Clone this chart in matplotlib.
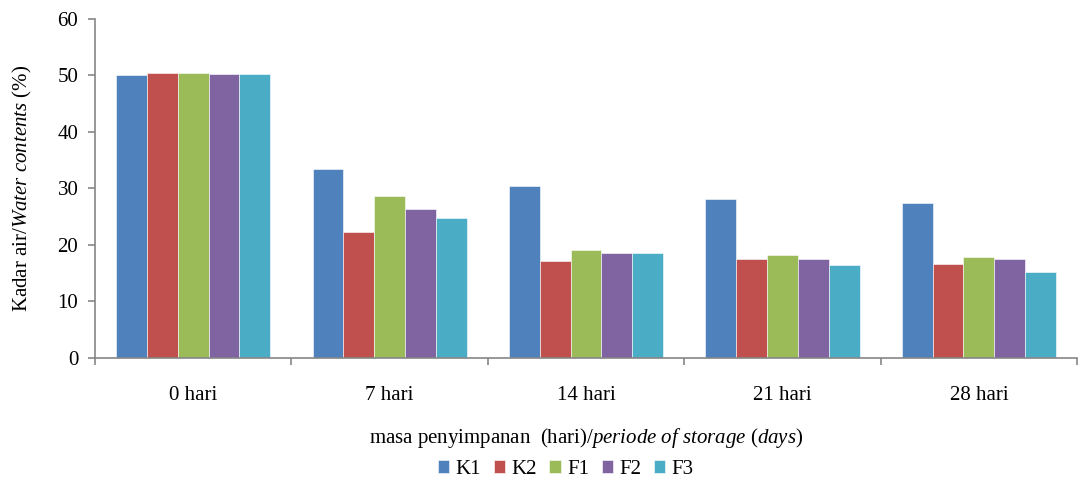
import matplotlib

matplotlib.use("Agg")
import matplotlib.pyplot as plt
import numpy as np

plt.rcParams["font.family"] = ["Liberation Serif", "DejaVu Serif"]
plt.rcParams["mathtext.fontset"] = "custom"
plt.rcParams["mathtext.rm"] = "Liberation Serif"
plt.rcParams["mathtext.it"] = "Liberation Serif:italic"

groups = ["0 hari", "7 hari", "14 hari", "21 hari", "28 hari"]
series = ["K1", "K2", "F1", "F2", "F3"]
K1 = [50.1, 33.4, 30.4, 28.1, 27.5]
K2 = [50.4, 22.3, 17.2, 17.6, 16.6]
F1 = [50.4, 28.7, 19.1, 18.2, 17.8]
F2 = [50.3, 26.3, 18.6, 17.6, 17.6]
F3 = [50.2, 24.7, 18.6, 16.5, 15.2]
values = [K1, K2, F1, F2, F3]
colors = ["#4F81BD", "#C0504D", "#9BBB59", "#8064A2", "#4BACC6"]

fig = plt.figure(figsize=(10.88, 4.82), dpi=100)
ax = fig.add_axes([0.0873, 0.2573, 0.9027, 0.7033])

x = np.arange(len(groups))
w = 0.157
for i, (name, vals, c) in enumerate(zip(series, values, colors)):
    ax.bar(x + (i - 2) * w, vals, width=w, color=c, label=name,
           edgecolor="white", linewidth=0.4)

ax.set_xlim(-0.5, len(groups) - 0.5)
ax.set_ylim(0, 60)
ax.set_yticks(range(0, 61, 10))
ax.set_xticks(x)
ax.set_xticklabels(groups)
ax.set_xticks(np.arange(-0.5, len(groups)), minor=True)
ax.tick_params(axis="x", which="major", length=0, pad=20, labelsize=15)
ax.tick_params(axis="x", which="minor", length=5, color="#868686", width=1.2)
ax.tick_params(axis="y", length=5, color="#868686", width=1.2, pad=7, labelsize=15)

for s in ["top", "right"]:
    ax.spines[s].set_visible(False)
for s in ["left", "bottom"]:
    ax.spines[s].set_color("#868686")
    ax.spines[s].set_linewidth(1.2)

ax.set_ylabel(r"Kadar air/$\mathit{Water\ contents}$ (%)", fontsize=15, labelpad=17)
ax.set_xlabel(r"masa penyimpanan  (hari)/$\mathit{periode\ of\ storage}$ ($\mathit{days}$)",
              fontsize=15, labelpad=15)

fig.legend(loc="lower center", bbox_to_anchor=(0.52, -0.02), ncol=5, frameon=False,
           fontsize=15, handlelength=0.55, handleheight=0.55, handletextpad=0.3,
           columnspacing=0.6, borderaxespad=0.2)

fig.savefig("out.png", dpi=100)
